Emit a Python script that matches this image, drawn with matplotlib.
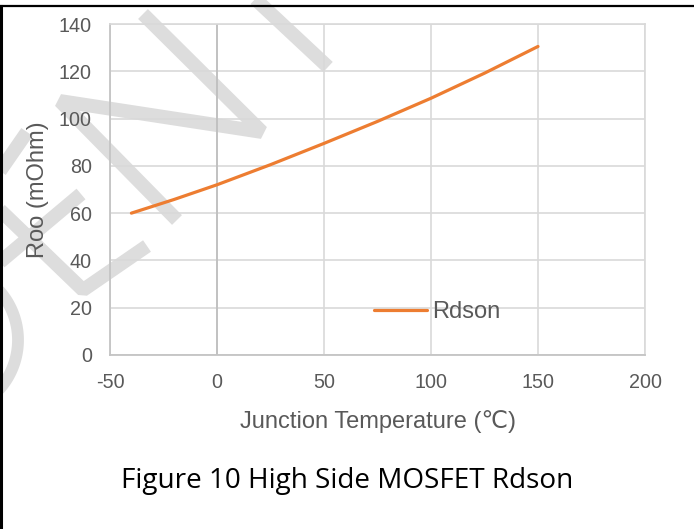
import numpy as np
import matplotlib
matplotlib.use("Agg")
import matplotlib.pyplot as plt
from matplotlib.lines import Line2D

plt.rcParams["axes.unicode_minus"] = False

# ---- data ----
temps = [-40, -20, 0, 25, 50, 75, 100, 125, 150]
rdson = [60, 65.8, 72, 80.5, 89.5, 98.8, 108.6, 119.2, 130.5]
series_name = "Rdson"
x_ticks = [-50, 0, 50, 100, 150, 200]
y_ticks = [0, 20, 40, 60, 80, 100, 120, 140]
x_label = "Junction Temperature (\u2103)"
y_label = "Roo (mOhm)"
caption = "Figure 10 High Side MOSFET Rdson"

W, H = 694, 529
fig = plt.figure(figsize=(W / 100, H / 100), dpi=100)
fig.patch.set_facecolor("white")

def px(x, y):
    return x / W, 1 - y / H

# ---- watermark (decorative strokes) ----
wm_color = "#dddddd"
wm_lw = 10
strokes = [
    [(143, 14), (262, 132), (60, 101), (177, 220)],
    [(252, -4), (328, 67)],
    [(0, 171), (27, 132)],
    [(0, 210), (83, 290), (147, 246)],
    [(81, 194), (0, 262)],
]
for s in strokes:
    xs, ys = zip(*[px(*p) for p in s])
    fig.add_artist(Line2D(xs, ys, color=wm_color, lw=wm_lw, solid_capstyle="butt",
                          solid_joinstyle="bevel", zorder=-5))
th = np.linspace(-0.9, 0.9, 60)
arc = [px(-56 + 74 * np.cos(t), 340 + 74 * np.sin(t)) for t in th]
xs, ys = zip(*arc)
fig.add_artist(Line2D(xs, ys, color=wm_color, lw=8.5, solid_capstyle="butt", zorder=-5))

# ---- frame lines ----
fig.add_artist(Line2D([0, 1], [1 - 5.5 / H, 1 - 5.5 / H], color="black", lw=1.6))
fig.add_artist(Line2D([0.8 / W, 0.8 / W], [0, 1 - 5.5 / H], color="black", lw=2.2))

# ---- axes ----
l, r, b, t = 110, 645, 355, 24
ax = fig.add_axes([l / W, 1 - b / H, (r - l) / W, (b - t) / H])
ax.set_facecolor("none")
ax.set_xlim(-50, 200)
ax.set_ylim(0, 140)
ax.set_xticks(x_ticks)
ax.set_yticks(y_ticks)

ax.grid(True, color="#d9d9d9", lw=1.2, zorder=0)
ax.set_axisbelow(True)
ax.axvline(0, color="#bfbfbf", lw=1.3, zorder=1)
for side in ["left", "bottom"]:
    ax.spines[side].set_color("#c4c4c4")
    ax.spines[side].set_linewidth(1.3)
for side in ["top", "right"]:
    ax.spines[side].set_color("#d9d9d9")
    ax.spines[side].set_linewidth(1.2)

fam = ["Liberation Sans", "DejaVu Sans"]
ax.tick_params(length=0, labelsize=14.2, labelcolor="#595959", pad=13)
for lab in ax.get_xticklabels() + ax.get_yticklabels():
    lab.set_family(fam)

ax.plot(temps, rdson, color="#ED7D31", lw=2.3, label=series_name,
        solid_capstyle="round", solid_joinstyle="round", zorder=3)

ax.set_xlabel(x_label, fontsize=17, color="#595959", family=fam, labelpad=13)
ax.set_ylabel(y_label, fontsize=17, color="#595959", family=fam, labelpad=7)

leg = ax.legend(loc="center left", bbox_to_anchor=((374 - l) / (r - l), (b - 312) / (b - t)),
                frameon=False, borderpad=0, borderaxespad=0, handlelength=2.25,
                handletextpad=0.2, prop={"family": fam, "size": 17})
for txt in leg.get_texts():
    txt.set_color("#595959")

fig.text(0.5, 1 - 481 / H, caption, ha="center", va="center", fontsize=20.1,
         family=["Open Sans", "DejaVu Sans"], color="black")

fig.savefig("out.png", dpi=100)
